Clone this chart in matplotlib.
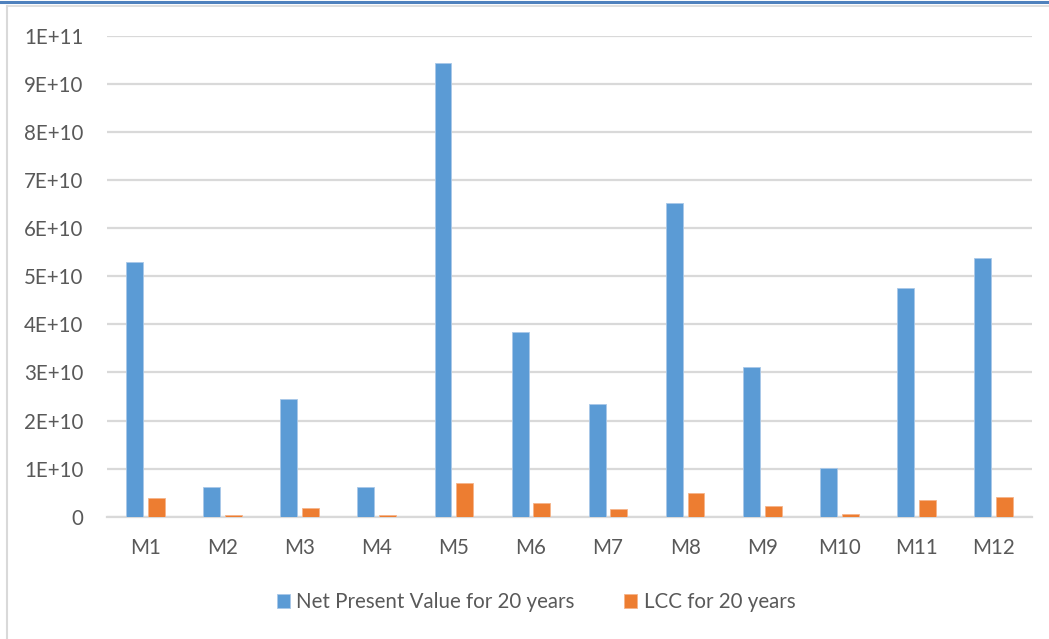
import numpy as np
import matplotlib
matplotlib.use("Agg")
import matplotlib.pyplot as plt
from matplotlib.lines import Line2D
from matplotlib.ticker import FuncFormatter

plt.rcParams["font.family"] = ["Lato", "DejaVu Sans"]

models = ["M1", "M2", "M3", "M4", "M5", "M6", "M7", "M8", "M9", "M10", "M11", "M12"]
npv_20y = [5.30e10, 0.62e10, 2.44e10, 0.61e10, 9.43e10, 3.83e10,
           2.34e10, 6.53e10, 3.11e10, 1.01e10, 4.75e10, 5.37e10]
lcc_20y = [0.38e10, 0.04e10, 0.175e10, 0.04e10, 0.70e10, 0.28e10,
           0.16e10, 0.49e10, 0.22e10, 0.06e10, 0.35e10, 0.40e10]

BLUE = "#5B9BD5"
ORANGE = "#ED7D31"
GRID = "#D9D9D9"
TEXT = "#595959"


def excel_sci(v, pos):
    if v == 0:
        return "0"
    exp = int(np.floor(np.log10(abs(v)) + 1e-9))
    mant = v / 10 ** exp
    return f"{mant:.0f}E+{exp}"


fig = plt.figure(figsize=(10.49, 6.39), dpi=100)
ax = fig.add_axes([107 / 1049, 1 - 516.7 / 639, 925 / 1049, 481 / 639])

x = np.arange(len(models))
w = 0.22
off = 0.141
ax.bar(x - off, npv_20y, width=w, color=BLUE, edgecolor="#A9C8E8", linewidth=0.6,
       label="Net Present Value for 20 years", zorder=3)
ax.bar(x + off, lcc_20y, width=w, color=ORANGE, edgecolor="#F5B48A", linewidth=0.6,
       label="LCC for 20 years", zorder=3)

ax.set_xlim(-0.5, len(models) - 0.5)
ax.set_ylim(0, 1e11)
ax.set_yticks(np.arange(0, 1.01e11, 1e10))
ax.yaxis.set_major_formatter(FuncFormatter(excel_sci))
ax.set_xticks(x)
ax.set_xticklabels(models)

ax.grid(axis="y", color=GRID, linewidth=1.6, zorder=0)
for s in ["top", "right", "left"]:
    ax.spines[s].set_visible(False)
ax.spines["bottom"].set_color(GRID)
ax.spines["bottom"].set_linewidth(1.6)
ax.tick_params(axis="both", length=0, labelsize=14.8, colors=TEXT)
ax.tick_params(axis="y", pad=17)
ax.tick_params(axis="x", pad=15)

fig.legend(loc="center", bbox_to_anchor=(536 / 1049, 1 - 602 / 639), ncol=2,
           frameon=False, fontsize=14.8, labelcolor=TEXT, handlelength=0.65,
           handleheight=0.65, handletextpad=0.3, columnspacing=2.4)

# frame lines around the chart area
fig.add_artist(Line2D([0, 1], [1 - 1.5 / 639, 1 - 1.5 / 639], color="#4F81BD", linewidth=2.2))
fig.add_artist(Line2D([6.5 / 1049, 1], [1 - 5.5 / 639, 1 - 5.5 / 639], color="#D9D9D9", linewidth=1.2))
fig.add_artist(Line2D([6.5 / 1049, 6.5 / 1049], [0, 1 - 5.5 / 639], color="#D9D9D9", linewidth=1.5))

fig.savefig("out.png", dpi=100)
